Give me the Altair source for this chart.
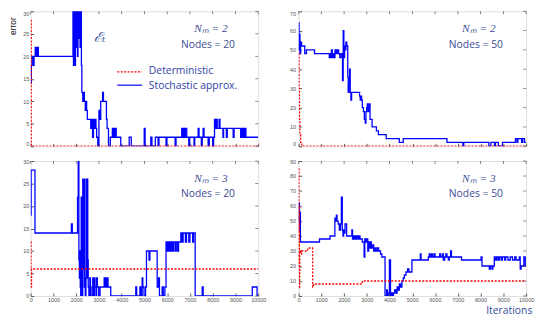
import altair as alt
import pandas as pd

# ---------------- data ----------------
X_TICKS = list(range(0, 10001, 1000))
LEGEND = ["Deterministic", "Stochastic approx."]

# top-left: N_m = 2, Nodes = 20  (x, error) step series
TL_STOCH = [(0, 14), (30, 18), (60, 20), (120, 18), (150, 20), (200, 22), (230, 20), (250, 22),
            (280, 20), (300, 22), (340, 20), (1860, 30), (1880, 18), (1900, 26), (1920, 30),
            (1950, 18), (1970, 30), (2000, 22), (2030, 30), (2060, 20), (2080, 30), (2110, 24),
            (2140, 30), (2170, 22), (2200, 30), (2230, 18), (2250, 12), (2290, 10), (2330, 12),
            (2360, 10), (2400, 8), (2440, 10), (2460, 8), (2490, 6), (2640, 4), (2680, 6),
            (2720, 2), (2760, 6), (2800, 4), (2830, 6), (2870, 4), (2900, 2), (2950, 0),
            (3000, 8), (3040, 6), (3080, 10), (3160, 12), (3200, 10), (3330, 6), (3360, 4),
            (3420, 0), (3500, 2), (3590, 4), (3620, 2), (3650, 4), (3680, 2), (3720, 4),
            (3760, 2), (3960, 0), (4330, 2), (4420, 0), (4990, 4), (5030, 0), (5280, 2),
            (5330, 0), (5480, 2), (5600, 0), (5640, 2), (5950, 0), (5990, 2), (6350, 0),
            (6390, 2), (6640, 4), (6680, 2), (6710, 4), (6760, 2), (6800, 4), (6860, 2),
            (6950, 0), (6990, 2), (7180, 0), (7210, 2), (7360, 4), (7400, 2), (7500, 0),
            (7540, 2), (7580, 4), (7620, 2), (7800, 0), (7850, 2), (8000, 0), (8040, 2),
            (8080, 6), (8120, 4), (8160, 6), (8200, 4), (8280, 6), (8320, 4), (8450, 2),
            (8480, 4), (8600, 2), (8640, 4), (8900, 2), (8940, 4), (9230, 2), (9260, 4),
            (9300, 2), (9340, 4), (9380, 2), (9420, 4), (9460, 2), (10000, 2)]
TL_DET = [(0, 28), (25, 0), (10000, 0)]

# top-right: N_m = 2, Nodes = 50
TR_STOCH = [(0, 64), (20, 50), (40, 58), (60, 48), (90, 54), (130, 52), (270, 48), (345, 50),
            (700, 48), (1350, 46), (1380, 48), (1410, 46), (1440, 50), (1480, 46), (1520, 48),
            (1560, 46), (1600, 50), (1650, 48), (1700, 50), (1760, 48), (1810, 46), (1870, 48),
            (1930, 34), (1960, 60), (1990, 46), (2020, 52), (2050, 50), (2080, 54), (2120, 52),
            (2160, 36), (2180, 28), (2210, 32), (2240, 40), (2270, 28), (2300, 24), (2330, 28),
            (2680, 26), (2710, 24), (2740, 26), (2770, 24), (2800, 20), (2850, 18), (2890, 14),
            (2930, 12), (2960, 18), (2990, 20), (3020, 22), (3050, 18), (3080, 20), (3110, 22),
            (3140, 14), (3230, 10), (3420, 8), (3510, 6), (3850, 4), (4425, 2), (4600, 4),
            (6520, 2), (7220, 0), (7260, 2), (8360, 0), (8450, 2), (8610, 0), (8650, 2),
            (8780, 0), (8960, 2), (9530, 4), (9600, 2), (9640, 4), (9800, 2), (9850, 4),
            (9930, 2), (10000, 2)]
TR_DET = [(0, 48), (20, 30), (40, 14), (60, 6), (90, 2), (140, 0), (10000, 0)]

# bottom-left: N_m = 3, Nodes = 20
BL_STOCH = [(0, 18), (20, 28), (190, 14), (1790, 16), (1830, 14), (2060, 22), (2090, 30),
            (2120, 8), (2140, 4), (2160, 10), (2180, 2), (2200, 0), (2220, 22), (2240, 4),
            (2260, 0), (2290, 26), (2320, 6), (2340, 26), (2360, 2), (2380, 4), (2400, 0),
            (2430, 26), (2460, 4), (2480, 26), (2510, 8), (2530, 2), (2560, 0), (2600, 4),
            (2630, 0), (2700, 2), (2730, 4), (2760, 0), (2800, 4), (2830, 2), (2870, 0),
            (2900, 4), (2930, 2), (2990, 0), (3050, 2), (3230, 4), (3260, 2), (3290, 4),
            (3320, 2), (3360, 4), (3400, 2), (3520, 0), (4620, 2), (4660, 0), (4800, 2),
            (4850, 0), (4900, 4), (4930, 2), (4980, 0), (5050, 2), (5090, 10), (5200, 8),
            (5240, 10), (5560, 2), (5620, 4), (5660, 0), (5780, 2), (5830, 0), (5900, 2),
            (5950, 12), (5980, 10), (6010, 12), (6040, 10), (6070, 12), (6100, 10), (6130, 12),
            (6170, 10), (6210, 12), (6250, 10), (6280, 12), (6350, 10), (6390, 12), (6450, 10),
            (6500, 12), (6600, 14), (6650, 12), (6700, 14), (6800, 12), (6850, 14), (6950, 12),
            (7000, 14), (7120, 12), (7160, 14), (7230, 0), (7540, 2), (7580, 0), (9740, 2),
            (9950, 0), (10000, 0)]
BL_DET = [(0, 12), (15, 2), (40, 6), (10000, 6)]

# bottom-right: N_m = 3, Nodes = 50
BR_STOCH = [(0, 50), (20, 62), (40, 44), (60, 56), (80, 36), (920, 38), (1380, 40), (1595, 52),
            (1630, 50), (1660, 54), (1690, 50), (1740, 48), (1790, 44), (1840, 48), (1880, 66),
            (1920, 44), (1950, 40), (1980, 44), (2010, 42), (2040, 48), (2110, 40), (2340, 44),
            (2370, 38), (2400, 40), (2440, 38), (2470, 40), (2520, 38), (2560, 40), (2620, 38),
            (2660, 40), (2700, 38), (2800, 36), (2880, 26), (2910, 38), (2950, 36), (3000, 38),
            (3040, 30), (3080, 36), (3120, 32), (3160, 36), (3200, 32), (3260, 34), (3300, 30),
            (3360, 32), (3400, 30), (3460, 32), (3520, 30), (3600, 28), (3660, 26), (3800, 0),
            (3870, 4), (3900, 0), (3960, 2), (3990, 24), (4040, 0), (4070, 2), (4120, 0),
            (4170, 2), (4220, 4), (4280, 2), (4330, 6), (4380, 4), (4430, 8), (4480, 6),
            (4540, 10), (4600, 12), (4650, 14), (4720, 16), (4790, 18), (4850, 16), (4980, 24),
            (5350, 28), (5380, 24), (5700, 26), (5740, 28), (5780, 26), (5840, 28), (5880, 26),
            (5950, 28), (6000, 26), (6200, 28), (6240, 26), (6320, 28), (6360, 24), (6420, 26),
            (6470, 28), (6520, 26), (6580, 24), (6620, 26), (6680, 30), (6720, 26), (7160, 24),
            (8020, 26), (8060, 20), (8380, 18), (8430, 20), (8500, 18), (8540, 20), (8600, 26),
            (8640, 24), (8700, 26), (8760, 24), (8820, 26), (8900, 24), (8960, 26), (9060, 24),
            (9100, 26), (9200, 24), (9300, 26), (9400, 24), (9500, 26), (9560, 24), (9700, 26),
            (9740, 18), (9780, 20), (9900, 26), (9960, 20), (10000, 20)]
BR_DET = [(0, 85), (12, 20), (24, 60), (36, 5), (50, 30), (90, 28), (130, 30), (400, 32),
          (620, 6), (660, 8), (2800, 10), (10000, 10)]

# ---------------- styling ----------------
W, H = 231, 137
BLUE = "#0000ff"
RED = "#ff0000"
TXT = "#3d4c95"
LEG_TXT = "#2f3fa6"
SANS = "Open Sans"
TICK_C = "#333"


def one_text(text, x, y, size, font, color, style="normal", align="center"):
    return alt.Chart(pd.DataFrame({"t": [text]})).mark_text(
        fontSize=size, font=font, color=color, fontStyle=style, align=align, baseline="middle"
    ).encode(text="t:N", x=alt.value(x), y=alt.value(y))


def panel(stoch, det, ymax, ystep, nm, nodes, xlabels, ylab_pad, ytitle=None, xtitle=None,
          legend=False, yflush=False):
    ds = pd.DataFrame(stoch, columns=["x", "y"])
    dd = pd.DataFrame(det, columns=["x", "y"])
    xs = alt.Scale(domain=[0, 10000], nice=False)
    ys = alt.Scale(domain=[0, ymax], nice=False)
    yticks = list(range(0, ymax + 1, ystep))
    common = dict(tickSize=3, offset=-3, domain=False, grid=False, tickColor=TICK_C,
                  tickWidth=0.8, labelFontSize=5.5, labelColor="#555", labelFont="Liberation Sans")
    xkw = dict(common, values=X_TICKS, labels=xlabels, labelPadding=2, format="d",
               labelFlush=False, labelOverlap=False)
    if xtitle:
        xkw.update(title=xtitle, titleX=190, titleY=18, titleAlign="left", titleBaseline="middle",
                   titleFontSize=10.5, titleColor="#3449a0", titleFont=SANS, titleFontWeight="normal")
    else:
        xkw.update(title=None)
    ykw = dict(common, values=yticks, labelPadding=ylab_pad, labelOverlap=False, labelFlush=yflush)
    if ytitle:
        ykw.update(title=ytitle, titleX=-21.5, titleY=14.5, titleAlign="center", titleBaseline="middle",
                   titleFontSize=8.5, titleColor="#111", titleFont="Liberation Sans", titleFontWeight="normal")
    else:
        ykw.update(title=None)
    xax = alt.Axis(**xkw)
    yax = alt.Axis(**ykw)

    blue = alt.Chart(ds).mark_line(interpolate="step-after", color=BLUE, strokeWidth=1.3, clip=True).encode(
        x=alt.X("x:Q", scale=xs, axis=xax),
        y=alt.Y("y:Q", scale=ys, axis=yax),
    )
    red = alt.Chart(dd).mark_line(interpolate="step-after", color=RED, strokeWidth=1.3,
                                  strokeDash=[2, 1.5], clip=True).encode(
        x=alt.X("x:Q", scale=xs, axis=xax), y=alt.Y("y:Q", scale=ys, axis=yax))
    # inward ticks on the top and right edges of the box
    top_ticks = alt.Chart(pd.DataFrame({"x": X_TICKS})).mark_tick(
        color=TICK_C, thickness=0.8, size=3, orient="vertical").encode(
        x=alt.X("x:Q", scale=xs, axis=xax), y=alt.value(1.5))
    right_ticks = alt.Chart(pd.DataFrame({"y": yticks})).mark_tick(
        color=TICK_C, thickness=0.8, size=3, orient="horizontal").encode(
        y=alt.Y("y:Q", scale=ys, axis=yax), x=alt.value(W - 1.5))
    layers = [blue, red, top_ticks, right_ticks,
              one_text(nm, 183, 18, 11.5, "Liberation Serif", TXT, style="italic"),
              one_text(nodes, 180, 34, 10.5, SANS, TXT)]
    if legend:
        layers += [
            alt.Chart(pd.DataFrame({"t": [LEGEND[0]]})).mark_rule(color=RED, strokeWidth=1.2, strokeDash=[2, 1.5]).encode(
                x=alt.value(88), x2=alt.value(113), y=alt.value(61.5)),
            alt.Chart(pd.DataFrame({"t": [LEGEND[1]]})).mark_rule(color=BLUE, strokeWidth=1.2).encode(
                x=alt.value(88), x2=alt.value(113), y=alt.value(75)),
            one_text(LEGEND[0], 120, 60.5, 10.5, SANS, LEG_TXT, align="left"),
            one_text(LEGEND[1], 120, 75.5, 10.5, SANS, LEG_TXT, align="left"),
            one_text("\u2130\u209c", 70, 27, 14, "DejaVu Serif", TXT, style="italic"),
        ]
    return alt.layer(*layers).properties(width=W, height=H)


tl = panel(TL_STOCH, TL_DET, 30, 5, "N\u2098 = 2", "Nodes = 20", False, 2, ytitle="error",
           legend=True, yflush=True)
tr = panel(TR_STOCH, TR_DET, 70, 10, "N\u2098 = 2", "Nodes = 50", False, 3, yflush=True)
bl = panel(BL_STOCH, BL_DET, 30, 5, "N\u2098 = 3", "Nodes = 20", True, 2)
br = panel(BR_STOCH, BR_DET, 90, 10, "N\u2098 = 3", "Nodes = 50", True, 3, xtitle="Iterations")

chart = alt.concat(tl, tr, bl, br, columns=2, spacing={"row": 15, "column": 41}, bounds="flush").resolve_scale(
    x="independent", y="independent"
).properties(
    padding={"left": 0, "top": 0, "right": 0, "bottom": 0}
).configure_view(stroke="#111", strokeWidth=1).configure(background="white")

chart.save("out.html", embed_options={"renderer": "svg", "actions": False})
